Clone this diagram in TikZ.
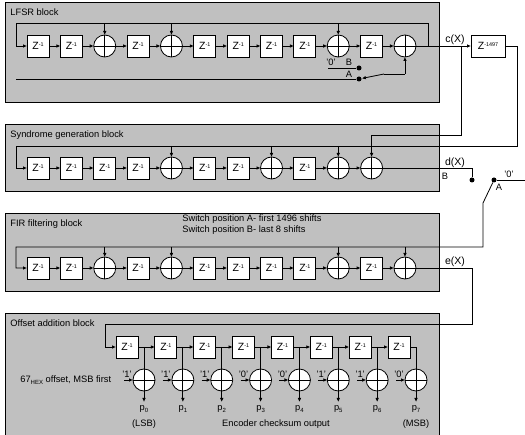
\documentclass[tikz,border=0pt]{standalone}
\usepackage{fontspec}
\setmainfont{Liberation Sans}
\usepackage{xcolor}
\usepackage{tikz}
\usetikzlibrary{arrows.meta,positioning}
\definecolor{blockgray}{RGB}{192,192,192}
\newcommand{\zinv}[1]{Z\raisebox{2.8pt}{\fontsize{5.4}{6}\selectfont #1}}
\newcommand{\lowsub}[1]{\raisebox{-1.5pt}{\fontsize{6}{6}\selectfont #1}}

\begin{document}
\begin{tikzpicture}[
    x=1pt, y=-1pt, node distance=11.36pt, line width=0.8pt,
    blk/.style={draw, fill=blockgray, rectangle, anchor=north west, minimum width=434pt, line width=1pt},
    zbox/.style={draw, fill=white, rectangle, minimum width=22pt, minimum height=22pt, inner sep=0pt, outer sep=0pt, font=\fontsize{10.5}{11}\selectfont},
    xorc/.style={draw, fill=white, circle, minimum size=22pt, inner sep=0pt, outer sep=0pt,
      path picture={\draw (path picture bounding box.north) -- (path picture bounding box.south);
        \draw (path picture bounding box.west) -- (path picture bounding box.east);}},
    swdot/.style={fill=black, circle, minimum size=5pt, inner sep=0pt},
    txt/.style={inner sep=0pt, font=\fontsize{9.3}{11}\selectfont},
    sigtxt/.style={inner sep=0pt, font=\fontsize{10.5}{12}\selectfont},
    plab/.style={txt, text height=8.5pt},
    sig/.style={-{Latex[length=4pt,width=3.6pt]}}
  ]
    \useasboundingbox (0,0) rectangle (525,435);

    % blocks
    \node[blk, minimum height=100pt] (lblock) at (5,2) {};
    \node[blk, minimum height=67pt] (sblock) at (5,124) {};
    \node[blk, minimum height=78pt] (fblock) at (5,213) {};
    \node[blk, minimum height=125pt] (oblock) at (5,313) {};
    \node[txt, anchor=west] (ltitle) at (10,12.5) {LFSR block};
    \node[txt, anchor=west] (stitle) at (10,135) {Syndrome generation block};
    \node[txt, anchor=west] (ftitle) at (10,224) {FIR filtering block};
    \node[txt, anchor=west] (otitle) at (10,323.5) {Offset addition block};
    \node[txt, anchor=west] (swa) at (182,219) {Switch position A- first 1496 shifts};
    \node[txt, anchor=west] (swb) at (182,230) {Switch position B- last 8 shifts};

    % LFSR row
    \node[zbox] (l1) at (38,46) {\zinv{-1}};
    \node[zbox, right=of l1] (l2) {\zinv{-1}};
    \node[xorc, right=of l2] (l3) {};
    \node[zbox, right=of l3] (l4) {\zinv{-1}};
    \node[xorc, right=of l4] (l5) {};
    \node[zbox, right=of l5] (l6) {\zinv{-1}};
    \node[zbox, right=of l6] (l7) {\zinv{-1}};
    \node[zbox, right=of l7] (l8) {\zinv{-1}};
    \node[zbox, right=of l8] (l9) {\zinv{-1}};
    \node[xorc, right=of l9] (l10) {};
    \node[zbox, right=of l10] (l11) {\zinv{-1}};
    \node[xorc, right=of l11] (l12) {};
    \node[zbox, minimum width=34pt] (zbig) at (488,46) {\zinv{-1497}};
    \draw[sig] (l1) -- (l2);
    \draw[sig] (l2) -- (l3);
    \draw[sig] (l3) -- (l4);
    \draw[sig] (l4) -- (l5);
    \draw[sig] (l5) -- (l6);
    \draw[sig] (l6) -- (l7);
    \draw[sig] (l7) -- (l8);
    \draw[sig] (l8) -- (l9);
    \draw[sig] (l9) -- (l10);
    \draw[sig] (l10) -- (l11);
    \draw[sig] (l11) -- (l12);
    \draw[sig] (l12) -- (zbig);
    \node[sigtxt] (cx) at (455,40) {c(X)};
    \coordinate (ltap) at (428,46);
    \coordinate (lfbr) at (428,23.5);
    \coordinate (lfbl) at (16,23.5);
    \coordinate (lin) at (16,46);
    \draw[sig] (ltap) -- (lfbr) -- (lfbl) -- (lin) -- (l1);
    \draw[sig] (l3 |- lfbl) -- (l3);
    \draw[sig] (l5 |- lfbl) -- (l5);
    \draw[sig] (l10 |- lfbl) -- (l10);

    % LFSR switch
    \node[swdot] (lb) at (359,68) {};
    \node[swdot] (la) at (359,79) {};
    \coordinate (lzero) at (328,68);
    \coordinate (lstart) at (16,79);
    \coordinate (lkink) at (384,74);
    \coordinate (lup) at (l12 |- lkink);
    \draw (lzero) -- (lb);
    \draw (lstart) -- (la);
    \draw[sig] (lkink) -- (la);
    \draw (lkink) -- (lup);
    \draw[sig] (lup) -- (l12);
    \node[txt] (lzerot) at (331,62.5) {'0'};
    \node[txt] (lbt) at (349,62.5) {B};
    \node[txt] (lat) at (349,74) {A};

    % syndrome row
    \node[zbox] (s1) at (38,168) {\zinv{-1}};
    \node[zbox, right=of s1] (s2) {\zinv{-1}};
    \node[zbox, right=of s2] (s3) {\zinv{-1}};
    \node[zbox, right=of s3] (s4) {\zinv{-1}};
    \node[xorc, right=of s4] (s5) {};
    \node[zbox, right=of s5] (s6) {\zinv{-1}};
    \node[zbox, right=of s6] (s7) {\zinv{-1}};
    \node[xorc, right=of s7] (s8) {};
    \node[zbox, right=of s8] (s9) {\zinv{-1}};
    \node[xorc, right=of s9] (s10) {};
    \node[xorc, right=of s10] (s11) {};
    \draw[sig] (s1) -- (s2);
    \draw[sig] (s2) -- (s3);
    \draw[sig] (s3) -- (s4);
    \draw[sig] (s4) -- (s5);
    \draw[sig] (s5) -- (s6);
    \draw[sig] (s6) -- (s7);
    \draw[sig] (s7) -- (s8);
    \draw[sig] (s8) -- (s9);
    \draw[sig] (s9) -- (s10);
    \draw[sig] (s10) -- (s11);
    \coordinate (cbr) at (461,46);
    \coordinate (cbrb) at (461,135);
    \draw[sig] (cbr) -- (cbrb) -- (cbrb -| s11) -- (s11);
    \coordinate (zr) at (517,46);
    \coordinate (zrb) at (517,146);
    \coordinate (sfbl) at (16,146);
    \coordinate (sin) at (16,168);
    \draw[sig] (zbig) -- (zr) -- (zrb) -- (sfbl) -- (sin) -- (s1);
    \draw[sig] (s5 |- sfbl) -- (s5);
    \draw[sig] (s8 |- sfbl) -- (s8);
    \draw[sig] (s10 |- sfbl) -- (s10);

    % output switch
    \node[swdot] (db) at (472,180) {};
    \node[swdot] (da) at (494,180) {};
    \draw (s11) -| (db);
    \node[sigtxt] (dx) at (455,163) {d(X)};
    \node[txt] (dbt) at (445,176) {B};
    \node[txt] (dat) at (499,187) {A};
    \node[txt] (dzero) at (509,174.5) {'0'};
    \coordinate (dend) at (525,180);
    \draw (da) -- (dend);

    % FIR row
    \node[zbox] (f1) at (38,268) {\zinv{-1}};
    \node[zbox, right=of f1] (f2) {\zinv{-1}};
    \node[xorc, right=of f2] (f3) {};
    \node[zbox, right=of f3] (f4) {\zinv{-1}};
    \node[xorc, right=of f4] (f5) {};
    \node[zbox, right=of f5] (f6) {\zinv{-1}};
    \node[zbox, right=of f6] (f7) {\zinv{-1}};
    \node[zbox, right=of f7] (f8) {\zinv{-1}};
    \node[zbox, right=of f8] (f9) {\zinv{-1}};
    \node[xorc, right=of f9] (f10) {};
    \node[zbox, right=of f10] (f11) {\zinv{-1}};
    \node[xorc, right=of f11] (f12) {};
    \draw[sig] (f1) -- (f2);
    \draw[sig] (f2) -- (f3);
    \draw[sig] (f3) -- (f4);
    \draw[sig] (f4) -- (f5);
    \draw[sig] (f5) -- (f6);
    \draw[sig] (f6) -- (f7);
    \draw[sig] (f7) -- (f8);
    \draw[sig] (f8) -- (f9);
    \draw[sig] (f9) -- (f10);
    \draw[sig] (f10) -- (f11);
    \draw[sig] (f11) -- (f12);
    \coordinate (swk) at (483,203);
    \coordinate (ffbr) at (483,247);
    \coordinate (ffbl) at (16,247);
    \coordinate (fin) at (16,268);
    \draw[sig] (da) -- (swk) -- (ffbr) -- (ffbl) -- (fin) -- (f1);
    \draw[sig] (f3 |- ffbl) -- (f3);
    \draw[sig] (f5 |- ffbl) -- (f5);
    \draw[sig] (f10 |- ffbl) -- (f10);
    \draw[sig] (f12 |- ffbl) -- (f12);
    \node[sigtxt] (ex) at (455,262) {e(X)};

    % offset row
    \node[zbox] (o1) at (127,347) {\zinv{-1}};
    \node[zbox, right=16.86pt of o1] (o2) {\zinv{-1}};
    \node[zbox, right=16.86pt of o2] (o3) {\zinv{-1}};
    \node[zbox, right=16.86pt of o3] (o4) {\zinv{-1}};
    \node[zbox, right=16.86pt of o4] (o5) {\zinv{-1}};
    \node[zbox, right=16.86pt of o5] (o6) {\zinv{-1}};
    \node[zbox, right=16.86pt of o6] (o7) {\zinv{-1}};
    \node[zbox, right=16.86pt of o7] (o8) {\zinv{-1}};
    \draw[sig] (o1) -- (o2);
    \draw[sig] (o2) -- (o3);
    \draw[sig] (o3) -- (o4);
    \draw[sig] (o4) -- (o5);
    \draw[sig] (o5) -- (o6);
    \draw[sig] (o6) -- (o7);
    \draw[sig] (o7) -- (o8);
    \coordinate (eright) at (472,268);
    \coordinate (ebot) at (472,324);
    \coordinate (eleft) at (105,324);
    \coordinate (oin) at (105,347);
    \draw[sig] (f12) -- (eright) -- (ebot) -- (eleft) -- (oin) -- (o1);

    % offset adders
    \node[xorc] (x1) at (144,380) {};
    \node[xorc, right=16.86pt of x1] (x2) {};
    \node[xorc, right=16.86pt of x2] (x3) {};
    \node[xorc, right=16.86pt of x3] (x4) {};
    \node[xorc, right=16.86pt of x4] (x5) {};
    \node[xorc, right=16.86pt of x5] (x6) {};
    \node[xorc, right=16.86pt of x6] (x7) {};
    \node[xorc, right=16.86pt of x7] (x8) {};
    \draw (x1 |- o1) -- (x1);
    \draw (x2 |- o2) -- (x2);
    \draw (x3 |- o3) -- (x3);
    \draw (x4 |- o4) -- (x4);
    \draw (x5 |- o5) -- (x5);
    \draw (x6 |- o6) -- (x6);
    \draw (x7 |- o7) -- (x7);
    \draw (o8) -| (x8);

    % offset bits
    \coordinate[left=9pt of x1] (i1);
    \coordinate[left=9pt of x2] (i2);
    \coordinate[left=9pt of x3] (i3);
    \coordinate[left=9pt of x4] (i4);
    \coordinate[left=9pt of x5] (i5);
    \coordinate[left=9pt of x6] (i6);
    \coordinate[left=9pt of x7] (i7);
    \coordinate[left=9pt of x8] (i8);
    \draw[sig] (i1) -- (x1);
    \draw[sig] (i2) -- (x2);
    \draw[sig] (i3) -- (x3);
    \draw[sig] (i4) -- (x4);
    \draw[sig] (i5) -- (x5);
    \draw[sig] (i6) -- (x6);
    \draw[sig] (i7) -- (x7);
    \draw[sig] (i8) -- (x8);
    \node[txt, above=2pt of i1, xshift=3pt] (b1) {'1'};
    \node[txt, above=2pt of i2, xshift=3pt] (b2) {'1'};
    \node[txt, above=2pt of i3, xshift=3pt] (b3) {'1'};
    \node[txt, above=2pt of i4, xshift=3pt] (b4) {'0'};
    \node[txt, above=2pt of i5, xshift=3pt] (b5) {'0'};
    \node[txt, above=2pt of i6, xshift=3pt] (b6) {'1'};
    \node[txt, above=2pt of i7, xshift=3pt] (b7) {'1'};
    \node[txt, above=2pt of i8, xshift=3pt] (b8) {'0'};
    \node[txt, anchor=west] (hexoff) at (20,380) {67\lowsub{HEX} offset, MSB first};

    % checksum outputs
    \node[plab, below=11pt of x1] (p0) {p\lowsub{0}};
    \node[plab, below=11pt of x2] (p1) {p\lowsub{1}};
    \node[plab, below=11pt of x3] (p2) {p\lowsub{2}};
    \node[plab, below=11pt of x4] (p3) {p\lowsub{3}};
    \node[plab, below=11pt of x5] (p4) {p\lowsub{4}};
    \node[plab, below=11pt of x6] (p5) {p\lowsub{5}};
    \node[plab, below=11pt of x7] (p6) {p\lowsub{6}};
    \node[plab, below=11pt of x8] (p7) {p\lowsub{7}};
    \draw[sig] (x1) -- (p0);
    \draw[sig] (x2) -- (p1);
    \draw[sig] (x3) -- (p2);
    \draw[sig] (x4) -- (p3);
    \draw[sig] (x5) -- (p4);
    \draw[sig] (x6) -- (p5);
    \draw[sig] (x7) -- (p6);
    \draw[sig] (x8) -- (p7);
    \node[txt] (lsb) at (144,424) {(LSB)};
    \node[txt] (msb) at (416,424) {(MSB)};
    \node[txt] (enc) at (276,424) {Encoder checksum output};
  \end{tikzpicture}
\end{document}
